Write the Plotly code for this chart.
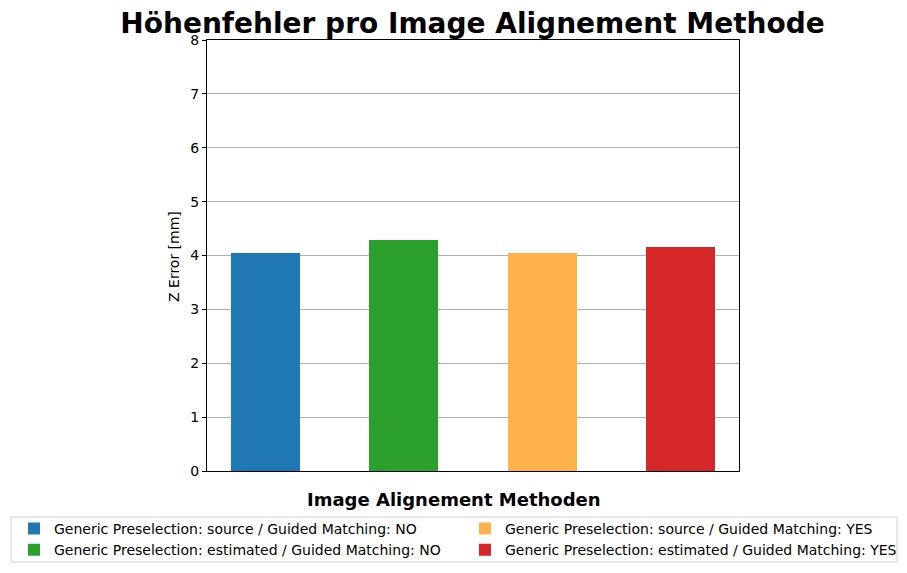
import plotly.graph_objects as go

methods = [
    "Generic Preselection: source / Guided Matching: NO",
    "Generic Preselection: estimated / Guided Matching: NO",
    "Generic Preselection: source / Guided Matching: YES",
    "Generic Preselection: estimated / Guided Matching: YES",
]
z_error = [4.04, 4.28, 4.04, 4.15]
colors = ["#1f77b4", "#2ca02c", "#ffb14a", "#d62728"]
legend_of = ["legend", "legend", "legend2", "legend2"]

fig = go.Figure()
for i, name in enumerate(methods):
    fig.add_trace(go.Bar(
        x=[i], y=[z_error[i]], name=name, width=0.5,
        marker=dict(color=colors[i], line=dict(width=0)),
        legend=legend_of[i],
    ))

leg_style = dict(orientation="v", xref="container", yref="container",
                 xanchor="left", yanchor="top", y=0.105,
                 borderwidth=0, bgcolor="rgba(0,0,0,0)",
                 font=dict(size=14), tracegroupgap=0)

fig.update_layout(
    width=907, height=573,
    font=dict(family="DejaVu Sans", size=14, color="black"),
    paper_bgcolor="white", plot_bgcolor="white",
    margin=dict(l=207, r=168, t=40, b=102, autoexpand=False),
    title=dict(text="<b>Höhenfehler pro Image Alignement Methode</b>",
               x=0.521, xanchor="center", y=0.96, yanchor="middle",
               font=dict(size=28)),
    showlegend=True,
    legend=dict(x=14 / 907, **leg_style),
    legend2=dict(x=465 / 907, **leg_style),
    bargap=0,
)

# axis titles as annotations (axis title placement breaks with autoexpand off)
fig.add_annotation(text="Z Error [mm]", textangle=-90, showarrow=False,
                   xref="paper", yref="paper", x=(174 - 207) / 532, y=(471 - 257) / 431,
                   xanchor="center", yanchor="middle", font=dict(size=14))
fig.add_annotation(text="<b>Image Alignement Methoden</b>", showarrow=False,
                   xref="paper", yref="paper", x=(453.5 - 207) / 532, y=(471 - 499) / 431,
                   xanchor="center", yanchor="middle", font=dict(size=18))

# legend frame around both legend columns
fig.add_shape(type="rect", xref="paper", yref="paper",
              x0=(11 - 207) / 532, x1=(897 - 207) / 532,
              y0=(471 - 517) / 431, y1=(471 - 562) / 431,
              line=dict(color="#d0d0d0", width=1), fillcolor="rgba(0,0,0,0)")

fig.update_xaxes(
    range=[-0.425, 3.425], showticklabels=False, ticks="",
    showgrid=False, zeroline=False,
    showline=True, linecolor="black", linewidth=1, mirror=True,
)
fig.update_yaxes(
    range=[0, 8], dtick=1, ticks="outside", ticklen=4, tickcolor="black",
    showgrid=True, gridcolor="#b0b0b0", gridwidth=1, zeroline=False,
    showline=True, linecolor="black", linewidth=1, mirror=True,
)

fig.write_html("out.html", config={"displayModeBar": False},
               post_script="document.body.style.margin='0';")
